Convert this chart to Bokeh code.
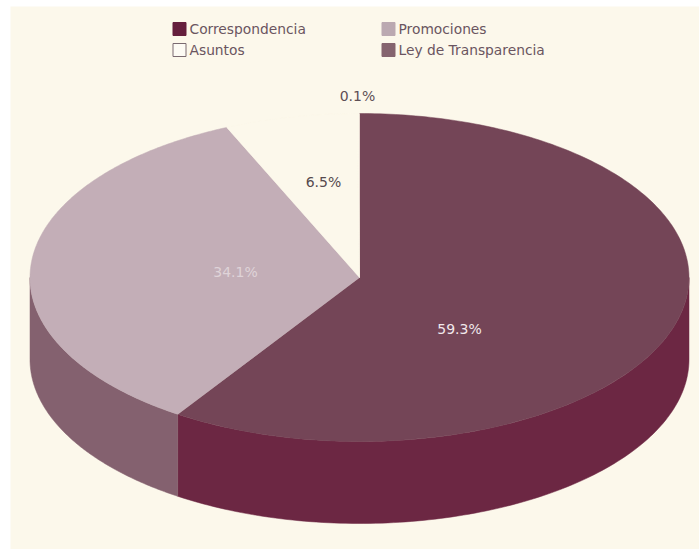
import numpy as np
from bokeh.plotting import figure
from bokeh.models import Range1d
from bokeh.core.properties import value
from bokeh.embed import file_html
from bokeh.resources import INLINE

categories = ["Correspondencia", "Promociones", "Asuntos", "Ley de Transparencia"]
shares = [59.3, 34.1, 6.5, 0.1]
labels = ["59.3%", "34.1%", "6.5%", "0.1%"]

BG = "#FCF8EB"
top_colors = ["#744557", "#C3AEB7", BG, BG]
side_colors = ["#6C2743", "#84616F", BG, BG]
swatch_fill = ["#651F3D", "#BBA9B1", "#FDFBF4", "#85646F"]
swatch_line = ["#651F3D", "#BBA9B1", "#7A6A70", "#85646F"]
label_colors = ["#F1E8EB", "#DFD3D8", "#564A4E", "#5E4F55"]
label_x = [459, 235, 323, 357]
label_y = [328, 271, 181, 95]
legend_x = [179, 388, 179, 388]
legend_y = [28.5, 28.5, 49.5, 49.5]

CX, CY, RX, RY, DEPTH = 359, 277, 329.5, 164, 82

p = figure(width=699, height=549, output_backend="svg", toolbar_location=None,
           x_range=Range1d(10, 699), y_range=Range1d(549, 6),
           min_border_left=10, min_border_right=0, min_border_top=6, min_border_bottom=0,
           background_fill_color=BG, border_fill_color="#FFFFFF", outline_line_color=None)
p.axis.visible = False
p.grid.visible = False

edges = np.cumsum([0] + shares) / sum(shares) * 2 * np.pi  # clockwise from 12 o'clock


def ex(t):
    return CX + RX * np.sin(t)


def ey(t):
    return CY - RY * np.cos(t)


# side walls: only the front half of the rim (from 3 o'clock to 9 o'clock)
sx, sy, sc = [], [], []
for a, b, c in zip(edges[:-1], edges[1:], side_colors):
    lo, hi = max(a, np.pi / 2), min(b, 3 * np.pi / 2)
    if hi <= lo:
        continue
    t = np.linspace(lo, hi, 120)
    sx.append(np.r_[ex(t), ex(t)[::-1]].tolist())
    sy.append(np.r_[ey(t), ey(t)[::-1] + DEPTH].tolist())
    sc.append(c)
p.patches(sx, sy, fill_color=sc, line_color=sc, line_width=0.5)

# top faces
tx, ty, tc = [], [], []
for a, b, c in zip(edges[:-1], edges[1:], top_colors):
    t = np.linspace(a, b, 240)
    tx.append(np.r_[CX, ex(t)].tolist())
    ty.append(np.r_[CY, ey(t)].tolist())
    tc.append(c)
p.patches(tx, ty, fill_color=tc, line_color=tc, line_width=0.5)

# value labels
p.text(label_x, label_y, text=labels, text_color=label_colors, text_font=value("DejaVu Sans"),
       text_font_size="14px", text_align="center", text_baseline="middle")

# legend
p.rect(legend_x, legend_y, width=13, height=13, fill_color=swatch_fill, line_color=swatch_line, line_width=1)
p.text([x + 10 for x in legend_x], legend_y, text=categories, text_color="#6A5560",
       text_font=value("DejaVu Sans"), text_font_size="13.8px", text_align="left", text_baseline="middle")

open("out.html", "w").write(file_html(p, INLINE))
